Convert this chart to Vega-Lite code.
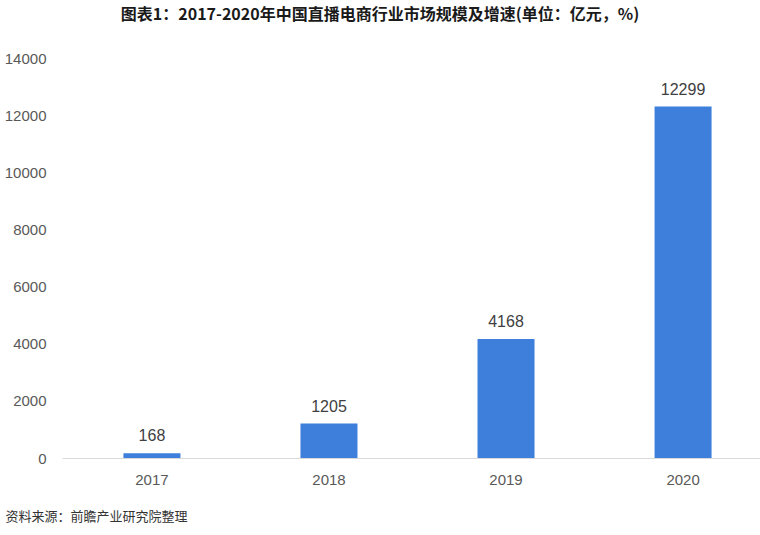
{
  "$schema": "https://vega.github.io/schema/vega-lite/v6.json",
  "width": 698,
  "height": 400,
  "autosize": "none",
  "padding": {"left": 62, "top": 58, "right": 0, "bottom": 77},
  "background": "white",
  "title": {
    "text": "图表1：2017-2020年中国直播电商行业市场规模及增速(单位：亿元，%)",
    "font": "Noto Sans CJK SC",
    "fontSize": 16,
    "fontWeight": "bold",
    "color": "#1a1a1a",
    "anchor": "middle",
    "dx": -31,
    "offset": 28
  },
  "data": {
    "values": [
      {"year": "2017", "value": 168},
      {"year": "2018", "value": 1205},
      {"year": "2019", "value": 4168},
      {"year": "2020", "value": 12299}
    ]
  },
  "encoding": {
    "x": {
      "field": "year",
      "type": "nominal",
      "sort": null,
      "scale": {"paddingInner": 0.678, "paddingOuter": 0.347, "range": [0, 711]},
      "axis": {
        "labelAngle": 0,
        "labelFont": "Liberation Sans",
        "labelFontSize": 15,
        "labelColor": "#595959",
        "labelPadding": 14,
        "ticks": false,
        "domainColor": "#d9d9d9",
        "domainWidth": 1,
        "grid": false,
        "title": "资料来源：前瞻产业研究院整理",
        "titleFont": "Noto Sans CJK SC",
        "titleFontSize": 13,
        "titleFontWeight": "normal",
        "titleColor": "#333333",
        "titleAnchor": "start",
        "titleAlign": "left",
        "titleBaseline": "middle",
        "titleX": -57,
        "titleY": 58
      }
    },
    "y": {
      "field": "value",
      "type": "quantitative",
      "scale": {"domain": [0, 14000]},
      "axis": {
        "values": [0, 2000, 4000, 6000, 8000, 10000, 12000, 14000],
        "format": "d",
        "labelFont": "Liberation Sans",
        "labelFontSize": 15,
        "labelColor": "#595959",
        "labelPadding": 16,
        "ticks": false,
        "domain": false,
        "grid": false,
        "title": null
      }
    }
  },
  "layer": [
    {"mark": {"type": "bar", "color": "#3d7fdb"}},
    {
      "mark": {"type": "text", "baseline": "bottom", "dy": -9, "font": "Liberation Sans", "fontSize": 16, "color": "#404040"},
      "encoding": {"text": {"field": "value", "type": "quantitative", "format": "d"}}
    }
  ],
  "config": {"view": {"stroke": null}}
}
